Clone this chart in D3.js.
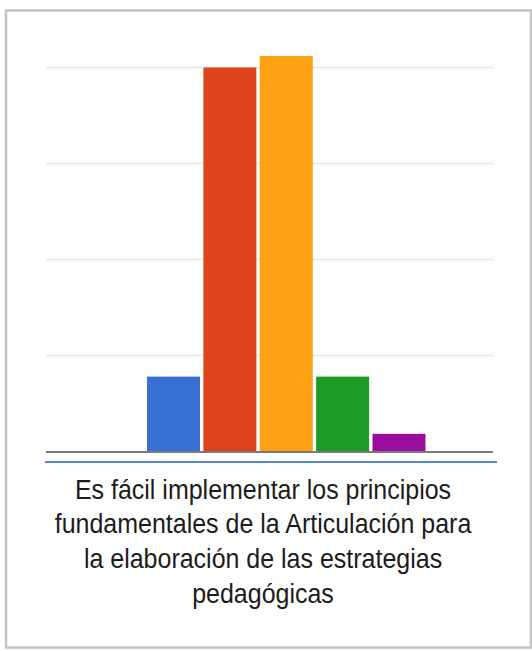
<!DOCTYPE html>
<html>
<head>
<meta charset="utf-8">
<script src="https://cdn.jsdelivr.net/npm/d3@7"></script>
<style>
  html, body { margin: 0; padding: 0; background: #fff; }
  svg { display: block; }
</style>
</head>
<body>
<svg id="chart" width="532" height="651"></svg>
<script>
// ---- data ----
const categoryLines = [
  "Es fácil implementar los principios",
  "fundamentales de la Articulación para",
  "la elaboración de las estrategias",
  "pedagógicas"
];
const seriesNames = ["Opción 1", "Opción 2", "Opción 3", "Opción 4", "Opción 5"];
const seriesValues = [3.9, 20, 20.6, 3.9, 0.92];
const seriesColors = ["#3a6fd4", "#df431d", "#fda012", "#1d9b27", "#9b0d9f"];
const gridTicks = [0, 5, 10, 15, 20];

// ---- drawing ----
const svg = d3.select("#chart");

// frame
svg.append("rect")
  .attr("x", 6).attr("y", 10.5)
  .attr("width", 525).attr("height", 637)
  .attr("fill", "#fff")
  .attr("stroke", "#c4c4c4").attr("stroke-width", 2.5);

const plotLeft = 46, plotRight = 493;
const y = d3.scaleLinear().domain([0, 20]).range([451.5, 67.5]);
const x = d3.scaleBand().domain(seriesNames).range([147, 425.5])
  .paddingInner(0.06).paddingOuter(0);

// gridlines
svg.append("g").selectAll("line")
  .data(gridTicks.filter(d => d > 0))
  .join("line")
  .attr("x1", plotLeft).attr("x2", plotRight)
  .attr("y1", d => y(d)).attr("y2", d => y(d))
  .attr("stroke", "#ebebeb").attr("stroke-width", 2);

// bars
svg.append("g").selectAll("rect")
  .data(seriesNames)
  .join("rect")
  .attr("x", d => x(d))
  .attr("width", x.bandwidth())
  .attr("y", (d, i) => y(seriesValues[i]))
  .attr("height", (d, i) => y(0) - y(seriesValues[i]))
  .attr("fill", (d, i) => seriesColors[i]);

// baseline
svg.append("line")
  .attr("x1", plotLeft).attr("x2", plotRight)
  .attr("y1", y(0) + 0.5).attr("y2", y(0) + 0.5)
  .attr("stroke", "#7a7a7a").attr("stroke-width", 2.2);

// blue axis line
svg.append("line")
  .attr("x1", 45).attr("x2", 497)
  .attr("y1", 462).attr("y2", 462)
  .attr("stroke", "#5a86d8").attr("stroke-width", 2);

// category label
const baselines = [499, 533, 568, 603];
svg.append("g").selectAll("text")
  .data(categoryLines)
  .join("text")
  .attr("transform", (d, i) => `translate(263,${baselines[i]}) scale(1,1.09)`)
  .attr("text-anchor", "middle")
  .attr("font-family", "'Liberation Sans', Arial, sans-serif")
  .attr("font-size", 25)
  .attr("fill", "#1c1c1c")
  .text(d => d);
</script>
</body>
</html>
